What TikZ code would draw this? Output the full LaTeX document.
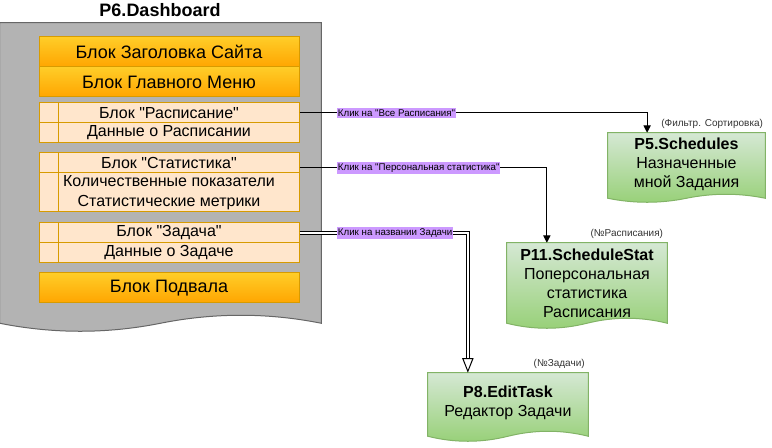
\documentclass[tikz,border=0pt]{standalone}
\usepackage{fontspec}
\setmainfont{Liberation Sans}[Ligatures=TeXOff]
\usetikzlibrary{arrows.meta,calc}

\definecolor{dashgray}{HTML}{B3B3B3}
\definecolor{dashline}{HTML}{666666}
\definecolor{orangetop}{HTML}{FFCD28}
\definecolor{orangebot}{HTML}{FFA500}
\definecolor{orangeline}{HTML}{D79B00}
\definecolor{rowfill}{HTML}{FFE6CC}
\definecolor{greentop}{HTML}{D5E8D4}
\definecolor{greenbot}{HTML}{97D077}
\definecolor{greenline}{HTML}{82B366}
\definecolor{clickfill}{HTML}{CC99FF}

% document outline (wavy bottom) around a node: [style]{node}{wave height}
\newcommand{\docwave}[3][]{%
  \path[#1] let \p1=(#2.north west), \p2=(#2.south east), \n1={(\x2-\x1)/6} in
    (\x1,\y1) -- (\x2,\y1) -- (\x2,\y2)
    .. controls ({\x2-\n1},{\y2+4*#3/3}) and ({\x1+4*\n1},{\y2+4*#3/3}) .. ({\x1+3*\n1},\y2)
    .. controls ({\x1+2*\n1},{\y2-4*#3/3}) and ({\x1+\n1},{\y2-4*#3/3}) .. (\x1,\y2) -- cycle;
}

\begin{document}
\begin{tikzpicture}[x=0.75pt,y=-0.75pt,
  frame/.style={inner sep=0pt, align=center},
  pagetitle/.style={font=\bfseries\fontsize{13.5}{16}\selectfont},
  headblock/.style={draw=orangeline, line width=0.75pt, top color=orangetop, bottom color=orangebot,
    minimum width=195pt, minimum height=22.5pt, inner sep=0pt, font=\fontsize{13.5}{16}\selectfont},
  rowblock/.style={draw=orangeline, line width=0.75pt, fill=rowfill, minimum width=195pt,
    minimum height=15pt, inner sep=0pt, align=center, font=\fontsize{12}{15}\selectfont},
  pagebox/.style={frame, minimum width=120pt, font=\fontsize{12}{14.25}\selectfont},
  clicklabel/.style={fill=clickfill, inner xsep=0.5pt, inner ysep=1pt, anchor=west,
    font=\fontsize{7.3}{8}\selectfont},
  paramlabel/.style={anchor=base east, text=black!80, inner sep=0pt, font=\fontsize{7.5}{8}\selectfont},
  link/.style={line width=0.75pt, -{Triangle[length=5.5pt,width=5.5pt]}},
  openlink/.style={line width=0.75pt, double, double distance=1.5pt,
    -{Triangle[open,length=11pt,width=8.5pt,line width=0.75pt]}}
]
\useasboundingbox (0,0) rectangle (772,448);

% Dashboard page
\node[frame, minimum width=240.75pt, minimum height=225pt] (dash) at (160.5,173) {};
\docwave[fill=dashgray, draw=dashline, line width=0.75pt]{dash}{6pt}
\node[pagetitle] (dash_title) at (160,10) {P6.Dashboard};

% Blocks of the page
\node[headblock] (site_head) at (169,52) {Блок Заголовка Сайта};
\node[headblock] (main_menu) at (169,82) {Блок Главного Меню};

\node[rowblock] (rasp_head) at (169,113) {Блок "Расписание"};
\node[rowblock] (rasp_data) at (169,133) {Данные о Расписании};

\node[rowblock] (stat_head) at (169,163) {Блок "Статистика"};
\node[rowblock, minimum height=29.25pt] (stat_data) at (169,192.5)
  {Количественные показатели\\Статистические метрики};

\node[rowblock] (task_head) at (169,233) {Блок "Задача"};
\node[rowblock] (task_data) at (169,253) {Данные о Задаче};

\node[headblock] (footer) at (169,288) {Блок Подвала};

\foreach \a/\b in {rasp_head/rasp_data, stat_head/stat_data, task_head/task_data}
  \draw[orangeline, line width=0.75pt] ([xshift=15pt]\a.north west) -- ([xshift=15pt]\b.south west);

% Target pages
\node[pagebox, minimum width=117.75pt, minimum height=48.75pt] (p5) at (686.5,165.5) {};
\docwave[draw=greenline, line width=0.75pt, top color=greentop, bottom color=greenbot]{p5}{3pt}
\node[pagebox] (p5_text) at (686.5,164.5) {{\bfseries P5.Schedules}\\Назначенные\\мной Задания};

\node[pagebox, minimum height=60pt] (p11) at (587,283) {};
\docwave[draw=greenline, line width=0.75pt, top color=greentop, bottom color=greenbot]{p11}{3.75pt}
\node[pagebox] (p11_text) at (587,283.5) {{\bfseries P11.ScheduleStat}\\Поперсональная\\статистика\\Расписания};

\node[pagebox, minimum height=47.25pt] (p8) at (508,404.5) {};
\docwave[draw=greenline, line width=0.75pt, top color=greentop, bottom color=greenbot]{p8}{3.75pt}
\node[pagebox] (p8_text) at (508,402.5) {{\bfseries P8.EditTask}\\Редактор Задачи};

\node[paramlabel] (p5_param) at ([xshift=-1.5pt,yshift=5pt]p5.north east) {(Фильтр. Сортировка)};
\node[paramlabel] (p11_param) at ([xshift=-3pt,yshift=5pt]p11.north east) {(№Расписания)};
\node[paramlabel] (p8_param) at ([xshift=-2.5pt,yshift=4.5pt]p8.north east) {(№Задачи)};

% Connect the nodes
\draw[link] (rasp_head.east) -| ($(p5.north west)!0.25!(p5.north east)$);
\draw[link] ([yshift=-3.75pt]stat_head.east) -| ($(p11.north west)!0.25!(p11.north east)$);
\draw[openlink] (task_head.east) -| ($(p8.north west)!0.25!(p8.north east)$);

\node[clicklabel] (click_rasp) at (337,113) {Клик на "Все Расписания"};
\node[clicklabel] (click_stat) at (337,168) {Клик на "Персональная статистика"};
\node[clicklabel] (click_task) at (337,233) {Клик на названии Задачи};

\end{tikzpicture}
\end{document}
